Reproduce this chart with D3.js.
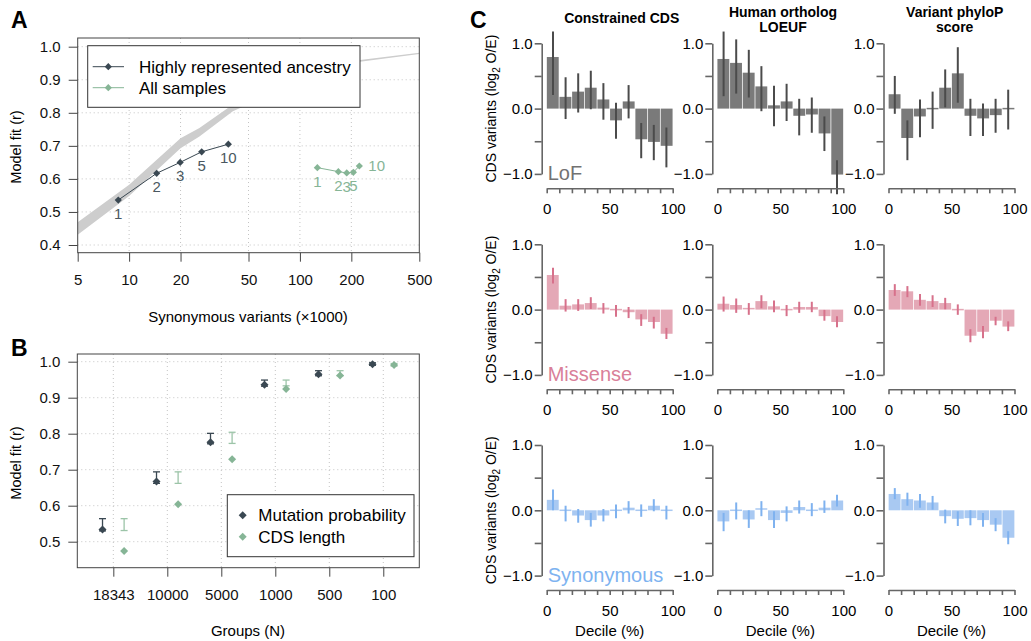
<!DOCTYPE html>
<html>
<head>
<meta charset="utf-8">
<script src="https://cdn.jsdelivr.net/npm/d3@7"></script>
<style>
  body { margin: 0; background: #fff; }
  svg { font-family: "Liberation Sans", Arial, Helvetica, sans-serif; }
  .grid { stroke: #c4c4c4; stroke-dasharray: 1,3; stroke-width: 1; }
  .axC path, .axC line { stroke: #666; stroke-width: 1.6; }
  .axC text { font-size: 15px; fill: #000; }
  .axAB line { stroke: #444; }
  .axAB text { font-size: 15px; fill: #111; }
</style>
</head>
<body>
<svg id="fig" width="1031" height="641"></svg>
<script>
// ---- panel A data ----
const ancestryN = ["1", "2", "3", "5", "10"]
const hraSyn = [8.64, 14.5, 19.9, 26.6, 38.1]
const hraFit = [0.536, 0.617, 0.650, 0.682, 0.705]
const allSyn = [126.5, 167.9, 188, 205.6, 222.8]
const allFit = [0.634, 0.622, 0.618, 0.620, 0.639]
// grey band (expected fit curve)
const bandSyn = [5, 10, 20, 25.8, 40.5, 100, 225, 500]
const bandFit = [0.45, 0.565, 0.708, 0.741, 0.815, 0.90, 0.957, 0.98]
const bandHalf = [0.019, 0.017, 0.015, 0.013, 0.01, 0.006, 0.0025, 0.002]

// ---- panel B data ----
const groupLabels = ["18343", "10000", "5000", "1000", "500", "100"]
const mutFit = [0.534, 0.667, 0.776, 0.936, 0.965, 0.993]
const mutLo  = [0.530, 0.662, 0.772, 0.932, 0.961, 0.990]
const mutHi  = [0.564, 0.694, 0.801, 0.949, 0.975, 0.997]
const cdsFit = [0.474, 0.604, 0.729, 0.924, 0.962, 0.991]
const cdsLo  = [0.531, 0.662, 0.773, 0.933, 0.961, 0.988]
const cdsHi  = [0.564, 0.694, 0.804, 0.949, 0.975, 0.995]

// ---- panel C data (log2 O/E per decile) ----
const deciles = [5, 15, 25, 35, 45, 55, 65, 75, 85, 95]
const lofCds     = [0.79, 0.18, 0.26, 0.32, 0.14, -0.18, 0.11, -0.47, -0.51, -0.57]
const lofCdsLo   = [0.21, -0.16, -0.06, -0.01, -0.17, -0.46, -0.15, -0.76, -0.79, -0.90]
const lofCdsHi   = [1.18, 0.48, 0.54, 0.58, 0.39, 0.09, 0.36, -0.22, -0.25, -0.29]
const lofLoeuf   = [0.76, 0.70, 0.55, 0.34, 0.05, 0.11, -0.11, -0.09, -0.38, -1.01]
const lofLoeufLo = [0.19, 0.23, 0.17, -0.04, -0.27, -0.19, -0.41, -0.37, -0.65, -1.31]
const lofLoeufHi = [1.18, 1.06, 0.90, 0.65, 0.35, 0.38, 0.15, 0.17, -0.12, -0.79]
const lofPhylo   = [0.22, -0.45, -0.12, 0.0, 0.32, 0.54, -0.11, -0.15, -0.10, -0.01]
const lofPhyloLo = [-0.08, -0.79, -0.44, -0.31, 0.02, 0.09, -0.42, -0.42, -0.37, -0.32]
const lofPhyloHi = [0.50, -0.18, 0.14, 0.26, 0.60, 0.94, 0.15, 0.08, 0.15, 0.29]

const misCds     = [0.53, 0.06, 0.08, 0.10, 0.03, -0.02, -0.04, -0.15, -0.19, -0.37]
const misCdsLo   = [0.40, -0.03, -0.02, 0.01, -0.06, -0.11, -0.13, -0.25, -0.29, -0.45]
const misCdsHi   = [0.64, 0.16, 0.16, 0.19, 0.10, 0.07, 0.04, -0.07, -0.11, -0.28]
const misLoeuf   = [0.09, 0.07, 0.015, 0.13, 0.05, -0.005, 0.04, 0.04, -0.10, -0.19]
const misLoeufLo = [-0.03, -0.05, -0.08, 0.02, -0.04, -0.10, -0.05, -0.04, -0.17, -0.27]
const misLoeufHi = [0.20, 0.17, 0.10, 0.22, 0.14, 0.07, 0.12, 0.12, -0.005, -0.10]
const misPhylo   = [0.30, 0.28, 0.15, 0.13, 0.10, -0.01, -0.40, -0.34, -0.17, -0.26]
const misPhyloLo = [0.21, 0.19, 0.06, 0.04, 0.005, -0.08, -0.50, -0.44, -0.24, -0.33]
const misPhyloHi = [0.39, 0.36, 0.24, 0.22, 0.18, 0.08, -0.30, -0.25, -0.11, -0.18]

const synCds     = [0.16, -0.01, -0.08, -0.15, -0.08, 0.0, 0.04, 0.0, 0.07, -0.005]
const synCdsLo   = [0.0, -0.17, -0.19, -0.25, -0.17, -0.12, -0.05, -0.10, -0.015, -0.14]
const synCdsHi   = [0.32, 0.07, 0.02, -0.04, 0.02, 0.09, 0.14, 0.09, 0.17, 0.07]
const synLoeuf   = [-0.17, 0.0, -0.14, 0.02, -0.15, -0.04, 0.05, 0.0, 0.04, 0.15]
const synLoeufLo = [-0.32, -0.14, -0.27, -0.09, -0.27, -0.17, -0.05, -0.09, -0.04, 0.06]
const synLoeufHi = [-0.04, 0.12, 0.0, 0.14, -0.015, 0.06, 0.15, 0.11, 0.15, 0.24]
const synPhylo   = [0.25, 0.17, 0.15, 0.12, -0.09, -0.13, -0.12, -0.15, -0.22, -0.42]
const synPhyloLo = [0.17, 0.07, 0.04, 0.01, -0.20, -0.24, -0.23, -0.25, -0.32, -0.52]
const synPhyloHi = [0.34, 0.27, 0.25, 0.22, 0.01, -0.015, 0.0, -0.04, -0.12, -0.32]

const colTitles = [["Constrained CDS"], ["Human ortholog", "LOEUF"], ["Variant phyloP", "score"]]

const dark = "#3a4852"
const green = "#86b596"

const svg = d3.select("#fig")

function letter(txt, x, y) {
  svg.append("text").attr("x", x).attr("y", y)
    .attr("font-size", 23).attr("font-weight", "bold").text(txt)
}

const diamond = (r) => d3.symbol(d3.symbolDiamond2, (r / 0.62625) ** 2)()

/* ================= Panel A ================= */
letter("A", 11, 28)
const A = svg.append("g")
const ax = d3.scaleLog().domain([5, 500]).range([77.7, 419.3])
const ay = d3.scaleLinear().domain([0.4, 1.0]).range([245, 46.7])

A.append("defs").append("clipPath").attr("id", "clipA")
  .append("rect").attr("x", 77.7).attr("y", 38).attr("width", 341.6).attr("height", 214.7)

A.selectAll(".gv").data([10, 20, 50, 100, 200]).join("line").attr("class", "grid")
  .attr("x1", d => ax(d)).attr("x2", d => ax(d)).attr("y1", 38).attr("y2", 252.7)
A.selectAll(".gh").data([0.4, 0.5, 0.6, 0.7, 0.8, 0.9, 1.0]).join("line").attr("class", "grid")
  .attr("x1", 77.7).attr("x2", 419.3).attr("y1", d => ay(d)).attr("y2", d => ay(d))

const bandData = bandSyn.map((s, i) => ({ s, c: bandFit[i], h: bandHalf[i] }))
A.append("path").datum(bandData)
  .attr("clip-path", "url(#clipA)")
  .attr("fill", "#cdcdcd")
  .attr("d", d3.area().x(d => ax(d.s)).y0(d => ay(d.c - d.h)).y1(d => ay(d.c + d.h)))

const line = d3.line().x(d => ax(d[0])).y(d => ay(d[1]))
function series(xs, ys, col) {
  const pts = xs.map((v, i) => [v, ys[i]])
  A.append("path").datum(pts).attr("fill", "none").attr("stroke", col).attr("stroke-width", 1).attr("d", line)
  A.selectAll(null).data(pts).join("path")
    .attr("transform", d => `translate(${ax(d[0])},${ay(d[1])})`)
    .attr("d", diamond(3.6)).attr("fill", col)
}
series(hraSyn, hraFit, dark)
series(allSyn, allFit, green)

A.selectAll(null).data(ancestryN).join("text")
  .attr("x", (d, i) => ax(hraSyn[i])).attr("y", (d, i) => ay(hraFit[i]) + 19)
  .attr("text-anchor", "middle").attr("font-size", 15).attr("fill", "#4a5860").text(d => d)
A.selectAll(null).data(ancestryN).join("text")
  .attr("x", (d, i) => i === 4 ? ax(allSyn[i]) + 9 : ax(allSyn[i]))
  .attr("y", (d, i) => i === 4 ? ay(allFit[i]) + 5 : ay(allFit[i]) + 19)
  .attr("text-anchor", (d, i) => i === 4 ? "start" : "middle")
  .attr("font-size", 15).attr("fill", green).text(d => d)

A.append("rect").attr("x", 77.7).attr("y", 38).attr("width", 341.6).attr("height", 214.7)
  .attr("fill", "none").attr("stroke", "#444")

A.append("g").attr("class", "axAB").attr("transform", "translate(0,252.7)")
  .call(d3.axisBottom(ax).tickValues([5, 10, 20, 50, 100, 200, 500]).tickFormat(d3.format("d"))
    .tickSize(9).tickSizeOuter(0).tickPadding(13))
  .call(g => g.select(".domain").remove())
A.append("g").attr("class", "axAB").attr("transform", "translate(77.7,0)")
  .call(d3.axisLeft(ay).tickValues([0.4, 0.5, 0.6, 0.7, 0.8, 0.9, 1.0]).tickFormat(d3.format(".1f"))
    .tickSize(9).tickSizeOuter(0).tickPadding(8))
  .call(g => g.select(".domain").remove())

// legend A
const legA = A.append("g")
legA.append("rect").attr("x", 87.7).attr("y", 45.7).attr("width", 272.3).attr("height", 61.6)
  .attr("fill", "#fff").attr("stroke", "#333")
;[["Highly represented ancestry", dark, 66.7], ["All samples", green, 87.7]].forEach(([t, c, y]) => {
  legA.append("line").attr("x1", 92.7).attr("x2", 124).attr("y1", y).attr("y2", y).attr("stroke", c)
  legA.append("path").attr("transform", `translate(108.3,${y})`).attr("d", diamond(3.6)).attr("fill", c)
  legA.append("text").attr("x", 139).attr("y", y + 6).attr("font-size", 17).text(t)
})

svg.append("text").attr("x", 248).attr("y", 322).attr("text-anchor", "middle")
  .attr("font-size", 15).text("Synonymous variants (\u00d71000)")
svg.append("text").attr("transform", "translate(21,147) rotate(-90)").attr("text-anchor", "middle")
  .attr("font-size", 14.5).text("Model fit (r)")

/* ================= Panel B ================= */
letter("B", 11, 356)
const B = svg.append("g")
const bx = d3.scaleLinear().domain([0.333, 6.667]).range([77.3, 419.3])
const by = d3.scaleLinear().domain([0.5, 1.0]).range([541.7, 361.7])

B.selectAll(null).data(groupLabels).join("line").attr("class", "grid")
  .attr("x1", (d, i) => bx(i + 1)).attr("x2", (d, i) => bx(i + 1)).attr("y1", 354).attr("y2", 567.7)
B.selectAll(null).data([0.5, 0.6, 0.7, 0.8, 0.9, 1.0]).join("line").attr("class", "grid")
  .attr("x1", 77.3).attr("x2", 419.3).attr("y1", d => by(d)).attr("y2", d => by(d))

function errPts(fit, lo, hi, off, col, errCol) {
  const g = B.append("g")
  fit.forEach((v, i) => {
    const cx = bx(i + 1 + off)
    g.append("line").attr("x1", cx).attr("x2", cx).attr("y1", by(lo[i])).attr("y2", by(hi[i]))
      .attr("stroke", errCol).attr("stroke-width", 1.3)
    ;[lo[i], hi[i]].forEach(e => g.append("line").attr("x1", cx - 3.5).attr("x2", cx + 3.5)
      .attr("y1", by(e)).attr("y2", by(e)).attr("stroke", errCol).attr("stroke-width", 1.3))
    g.append("path").attr("transform", `translate(${cx},${by(v)})`).attr("d", diamond(4)).attr("fill", col)
  })
}
errPts(mutFit, mutLo, mutHi, -0.2, dark, dark)
errPts(cdsFit, cdsLo, cdsHi, 0.2, green, "#9cc4a8")

B.append("rect").attr("x", 77.3).attr("y", 354).attr("width", 342).attr("height", 213.7)
  .attr("fill", "none").attr("stroke", "#444")

B.append("g").attr("class", "axAB").attr("transform", "translate(0,567.7)")
  .call(d3.axisBottom(bx).tickValues([1, 2, 3, 4, 5, 6]).tickFormat(d => groupLabels[d - 1])
    .tickSize(9).tickSizeOuter(0).tickPadding(13))
  .call(g => g.select(".domain").remove())
B.append("g").attr("class", "axAB").attr("transform", "translate(77.3,0)")
  .call(d3.axisLeft(by).tickValues([0.5, 0.6, 0.7, 0.8, 0.9, 1.0]).tickFormat(d3.format(".1f"))
    .tickSize(9).tickSizeOuter(0).tickPadding(8))
  .call(g => g.select(".domain").remove())

const legB = B.append("g")
legB.append("rect").attr("x", 227.3).attr("y", 494.7).attr("width", 186.7).attr("height", 62)
  .attr("fill", "#fff").attr("stroke", "#333")
;[["Mutation probability", dark, 515.3], ["CDS length", green, 536.7]].forEach(([t, c, y]) => {
  legB.append("path").attr("transform", `translate(242.7,${y})`).attr("d", diamond(4)).attr("fill", c)
  legB.append("text").attr("x", 258.3).attr("y", y + 6).attr("font-size", 17).text(t)
})

svg.append("text").attr("x", 248).attr("y", 636).attr("text-anchor", "middle")
  .attr("font-size", 15).text("Groups (N)")
svg.append("text").attr("transform", "translate(21,463) rotate(-90)").attr("text-anchor", "middle")
  .attr("font-size", 14.5).text("Model fit (r)")

/* ================= Panel C ================= */
letter("C", 470, 28)
const rows = [
  { name: "LoF", bar: "#7a7a7a", err: "#4b4b4b", lab: "#727272",
    cols: [[lofCds, lofCdsLo, lofCdsHi], [lofLoeuf, lofLoeufLo, lofLoeufHi], [lofPhylo, lofPhyloLo, lofPhyloHi]] },
  { name: "Missense", bar: "#e4a8b6", err: "#d7718b", lab: "#d98099",
    cols: [[misCds, misCdsLo, misCdsHi], [misLoeuf, misLoeufLo, misLoeufHi], [misPhylo, misPhyloLo, misPhyloHi]] },
  { name: "Synonymous", bar: "#a9c9f2", err: "#7fb2ef", lab: "#7eb3f0",
    cols: [[synCds, synCdsLo, synCdsHi], [synLoeuf, synLoeufLo, synLoeufHi], [synPhylo, synPhyloLo, synPhyloHi]] }
]
const colX = [546.7, 717.3, 888.5]
const rowTop = [43.3, 244.3, 445]
const panelW = 126

rows.forEach((row, r) => {
  const yTop = rowTop[r]
  const y = d3.scaleLinear().domain([-1, 1]).range([yTop + 130.6, yTop])
  row.cols.forEach(([vals, lo, hi], c) => {
    const x0 = colX[c]
    const g = svg.append("g")
    const xs = d3.scaleLinear().domain([0, 100]).range([x0, x0 + panelW])
    const band = d3.scaleBand().domain(deciles).range([x0, x0 + panelW]).paddingInner(0.06).paddingOuter(0.01)

    g.selectAll(null).data(vals).join("rect")
      .attr("x", (d, i) => band(deciles[i]))
      .attr("width", band.bandwidth())
      .attr("y", d => Math.min(y(d), y(0)) - (Math.abs(y(d) - y(0)) < 1.5 ? 0.75 : 0))
      .attr("height", d => Math.max(Math.abs(y(d) - y(0)), 1.5))
      .attr("fill", row.bar)
    g.selectAll(null).data(vals).join("line")
      .attr("x1", (d, i) => xs(deciles[i])).attr("x2", (d, i) => xs(deciles[i]))
      .attr("y1", (d, i) => y(lo[i])).attr("y2", (d, i) => y(hi[i]))
      .attr("stroke", row.err).attr("stroke-width", 2)

    g.append("g").attr("class", "axC").attr("transform", `translate(${x0 - 5},0)`)
      .call(d3.axisLeft(y).tickValues([-1, -0.5, 0, 0.5, 1])
        .tickFormat(d => Number.isInteger(d) ? d3.format(".1f")(d) : "")
        .tickSize(7).tickSizeOuter(0).tickPadding(2))
    g.append("g").attr("class", "axC").attr("transform", `translate(0,${yTop + 145})`)
      .call(d3.axisBottom(xs).tickValues(d3.range(0, 101, 10))
        .tickFormat(d => d % 50 === 0 ? d : "")
        .tickSize(5).tickSizeOuter(0).tickPadding(10))

    if (r === 2) {
      g.append("text").attr("x", x0 + panelW / 2).attr("y", 636).attr("text-anchor", "middle")
        .attr("font-size", 15).text("Decile (%)")
    }
  })
  svg.append("text").attr("x", colX[0] + 1).attr("y", y(-1) + 6.5)
    .attr("font-size", 20).attr("fill", row.lab).text(row.name)
  const yl = svg.append("text").attr("transform", `translate(496,${y(0)}) rotate(-90)`)
    .attr("text-anchor", "middle").attr("font-size", 14)
  yl.append("tspan").text("CDS variants (log")
  yl.append("tspan").attr("font-size", 10).attr("dy", 4).text("2")
  yl.append("tspan").attr("dy", -4).text(" O/E)")
})

const hx = [621.7, 783, 954.7]
colTitles.forEach((lines, c) => {
  const t = svg.append("text").attr("text-anchor", "middle").attr("font-size", 14).attr("font-weight", "bold")
  const base = lines.length === 1 ? 23 : 17
  lines.forEach((l, k) => t.append("tspan").attr("x", hx[c]).attr("y", base + k * 14.5).text(l))
})
</script>
</body>
</html>
